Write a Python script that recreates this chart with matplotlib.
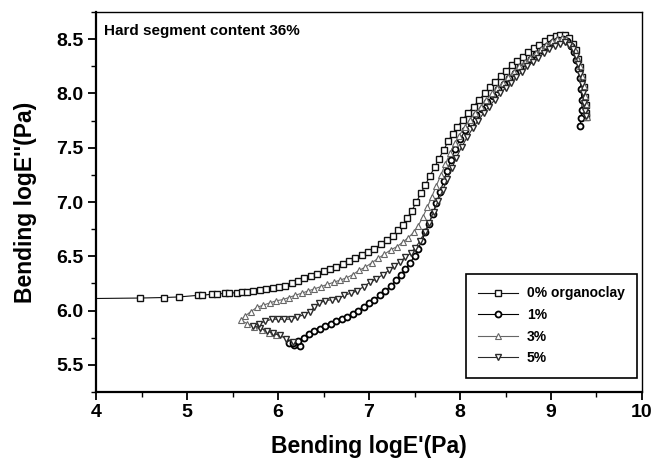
import matplotlib
matplotlib.use("Agg")
import matplotlib.pyplot as plt
from matplotlib.ticker import MultipleLocator

plt.rcParams['font.family'] = ['Liberation Sans', 'DejaVu Sans']

labels = ["0% organoclay", "1%", "3%", "5%"]
markers = ["s", "o", "^", "v"]

x0 = [3.90, 4.48, 4.75, 4.91, 5.12, 5.16, 5.27, 5.33, 5.42, 5.46, 5.55, 5.60, 5.66, 5.73, 5.80, 5.87,
      5.94, 6.01, 6.08, 6.15, 6.22, 6.29, 6.36, 6.43, 6.50, 6.57, 6.64, 6.71, 6.78, 6.85, 6.92, 6.99,
      7.06, 7.13, 7.20, 7.26, 7.32, 7.37, 7.42, 7.47, 7.52, 7.57, 7.62, 7.67, 7.72, 7.77, 7.82, 7.87,
      7.92, 7.97, 8.03, 8.09, 8.15, 8.21, 8.27, 8.33, 8.39, 8.45, 8.51, 8.57, 8.63, 8.69, 8.75, 8.81,
      8.87, 8.93, 8.99, 9.05, 9.10, 9.15, 9.20, 9.24, 9.27, 9.30, 9.32, 9.34, 9.36, 9.37, 9.38, 9.39, 9.39]
y0 = [6.11, 6.115, 6.12, 6.125, 6.14, 6.14, 6.15, 6.15, 6.16, 6.16, 6.165, 6.17, 6.175, 6.18, 6.19, 6.20,
      6.21, 6.22, 6.23, 6.25, 6.27, 6.30, 6.32, 6.34, 6.36, 6.38, 6.40, 6.43, 6.46, 6.48, 6.51, 6.54,
      6.57, 6.61, 6.65, 6.69, 6.74, 6.79, 6.85, 6.92, 7.00, 7.08, 7.16, 7.24, 7.32, 7.40, 7.48, 7.56,
      7.63, 7.69, 7.76, 7.82, 7.88, 7.94, 8.00, 8.06, 8.11, 8.16, 8.21, 8.26, 8.30, 8.34, 8.38, 8.42,
      8.45, 8.48, 8.51, 8.53, 8.54, 8.54, 8.51, 8.46, 8.40, 8.32, 8.24, 8.15, 8.06, 7.97, 7.89, 7.82, 7.78]

x1 = [6.24, 6.18, 6.12, 6.16, 6.22, 6.28, 6.34, 6.40, 6.46, 6.52, 6.58, 6.64, 6.70, 6.76, 6.82, 6.88,
      6.94, 7.00, 7.06, 7.12, 7.18, 7.24, 7.30, 7.35, 7.40, 7.45, 7.50, 7.54, 7.58, 7.62, 7.66, 7.70,
      7.74, 7.78, 7.82, 7.86, 7.90, 7.95, 8.00, 8.06, 8.12, 8.18, 8.24, 8.30, 8.36, 8.42, 8.48, 8.54,
      8.60, 8.66, 8.72, 8.78, 8.84, 8.90, 8.96, 9.02, 9.08, 9.13, 9.18, 9.22, 9.25, 9.28, 9.30, 9.32,
      9.33, 9.34, 9.34, 9.33, 9.32]
y1 = [5.67, 5.68, 5.70, 5.70, 5.72, 5.75, 5.78, 5.81, 5.83, 5.86, 5.88, 5.90, 5.92, 5.94, 5.97, 6.00,
      6.03, 6.07, 6.10, 6.14, 6.18, 6.23, 6.28, 6.33, 6.38, 6.44, 6.50, 6.57, 6.64, 6.72, 6.80, 6.89,
      6.99, 7.09, 7.19, 7.29, 7.39, 7.49, 7.58, 7.66, 7.73, 7.80, 7.86, 7.92, 7.98, 8.04, 8.09, 8.14,
      8.19, 8.24, 8.28, 8.32, 8.36, 8.40, 8.44, 8.47, 8.49, 8.50, 8.48, 8.44, 8.38, 8.31, 8.23, 8.14,
      8.04, 7.94, 7.85, 7.77, 7.70]

x3 = [5.98, 5.90, 5.82, 5.74, 5.66, 5.59, 5.64, 5.70, 5.77, 5.84, 5.91, 5.98, 6.05, 6.12, 6.19, 6.26,
      6.33, 6.40, 6.47, 6.54, 6.61, 6.68, 6.75, 6.82, 6.89, 6.96, 7.03, 7.10, 7.17, 7.24, 7.31, 7.37,
      7.43, 7.49, 7.54, 7.59, 7.64, 7.69, 7.74, 7.79, 7.84, 7.89, 7.94, 7.99, 8.05, 8.11, 8.17, 8.23,
      8.29, 8.35, 8.41, 8.47, 8.53, 8.59, 8.65, 8.71, 8.77, 8.83, 8.89, 8.95, 9.01, 9.07, 9.12, 9.17,
      9.22, 9.26, 9.29, 9.32, 9.34, 9.36, 9.37, 9.38, 9.39, 9.40]
y3 = [5.77, 5.79, 5.82, 5.85, 5.88, 5.91, 5.95, 5.99, 6.03, 6.05, 6.07, 6.09, 6.10, 6.12, 6.14, 6.16,
      6.18, 6.20, 6.22, 6.24, 6.26, 6.28, 6.30, 6.33, 6.37, 6.40, 6.44, 6.48, 6.52, 6.56, 6.59, 6.63,
      6.67, 6.72, 6.78, 6.86, 6.95, 7.05, 7.15, 7.25, 7.35, 7.45, 7.54, 7.61, 7.69, 7.76, 7.82, 7.88,
      7.94, 8.00, 8.05, 8.10, 8.15, 8.20, 8.25, 8.29, 8.33, 8.37, 8.41, 8.45, 8.48, 8.50, 8.51, 8.50,
      8.46, 8.40, 8.33, 8.25, 8.16, 8.07, 7.98, 7.90, 7.83, 7.78]

x5 = [6.16, 6.09, 6.02, 5.95, 5.88, 5.80, 5.73, 5.79, 5.86, 5.93, 6.00, 6.07, 6.14, 6.21, 6.28, 6.35,
      6.40, 6.45, 6.52, 6.59, 6.66, 6.73, 6.80, 6.87, 6.94, 7.01, 7.08, 7.15, 7.22, 7.28, 7.34, 7.40,
      7.46, 7.51, 7.56, 7.61, 7.66, 7.71, 7.76, 7.81, 7.86, 7.91, 7.96, 8.02, 8.08, 8.14, 8.20, 8.26,
      8.32, 8.38, 8.44, 8.50, 8.56, 8.62, 8.68, 8.74, 8.80, 8.86, 8.92, 8.98, 9.04, 9.10, 9.15, 9.20,
      9.24, 9.27, 9.30, 9.32, 9.34, 9.35, 9.36, 9.37, 9.38]
y5 = [5.71, 5.74, 5.77, 5.79, 5.81, 5.84, 5.86, 5.88, 5.90, 5.92, 5.92, 5.92, 5.92, 5.94, 5.96, 5.99,
      6.03, 6.07, 6.09, 6.10, 6.11, 6.14, 6.16, 6.18, 6.22, 6.26, 6.29, 6.33, 6.37, 6.41, 6.45, 6.49,
      6.53, 6.58, 6.64, 6.72, 6.81, 6.91, 7.01, 7.11, 7.21, 7.31, 7.41, 7.51, 7.60, 7.68, 7.75, 7.82,
      7.88, 7.94, 8.00, 8.05, 8.10, 8.15, 8.20, 8.25, 8.29, 8.33, 8.37, 8.41, 8.44, 8.46, 8.47, 8.45,
      8.41, 8.35, 8.27, 8.18, 8.09, 8.00, 7.91, 7.84, 7.79]

xs = [x0, x1, x3, x5]
ys = [y0, y1, y3, y5]
edge_colors = ["#111111", "#000000", "#666666", "#2a2a2a"]
edge_widths = [1.0, 1.3, 0.8, 1.0]

fig = plt.figure(figsize=(6.67, 4.66), dpi=100)
ax = fig.add_axes([0.144, 0.159, 0.8185, 0.815])

for x, y, m, lab, ec, ew in zip(xs, ys, markers, labels, edge_colors, edge_widths):
    ax.plot(x, y, color=ec, lw=0.8, marker=m, markersize=4.3,
            markerfacecolor="white", markeredgecolor=ec, markeredgewidth=ew,
            label=lab)

ax.set_xlim(4, 10)
ax.set_ylim(5.25, 8.75)
ax.xaxis.set_major_locator(MultipleLocator(1))
ax.xaxis.set_minor_locator(MultipleLocator(0.5))
ax.yaxis.set_major_locator(MultipleLocator(0.5))
ax.yaxis.set_minor_locator(MultipleLocator(0.25))
ax.tick_params(which="major", direction="out", length=6, width=1.3, labelsize=14, pad=3)
ax.tick_params(which="minor", direction="out", length=3.5, width=1.0)
ax.tick_params(top=False, right=False)
ax.set_yticks([5.5, 6.0, 6.5, 7.0, 7.5, 8.0, 8.5])
ax.set_yticklabels(["5.5", "6.0", "6.5", "7.0", "7.5", "8.0", "8.5"], fontweight="bold")
ax.set_xticks([4, 5, 6, 7, 8, 9, 10])
ax.set_xticklabels(["4", "5", "6", "7", "8", "9", "10"], fontweight="bold")

for side in ["left", "bottom"]:
    ax.spines[side].set_linewidth(1.6)
for side in ["top", "right"]:
    ax.spines[side].set_linewidth(1.0)

ax.set_xlabel("Bending logE'(Pa)", fontsize=16.5, fontweight="bold", labelpad=10)
ax.set_ylabel("Bending logE''(Pa)", fontsize=16.5, fontweight="bold", labelpad=14)

ax.text(0.015, 0.95, "Hard segment content 36%", transform=ax.transAxes,
        fontsize=11, fontweight="bold", va="center", ha="left")

leg = ax.legend(loc="lower right", bbox_to_anchor=(0.991, 0.037), frameon=True,
                fancybox=False, edgecolor="black", framealpha=1,
                prop={"weight": "bold", "size": 10}, handlelength=2.9,
                labelspacing=0.55, borderpad=0.9, handletextpad=0.6, borderaxespad=0)
leg.get_frame().set_linewidth(1.2)

fig.savefig("out.png", dpi=100)
